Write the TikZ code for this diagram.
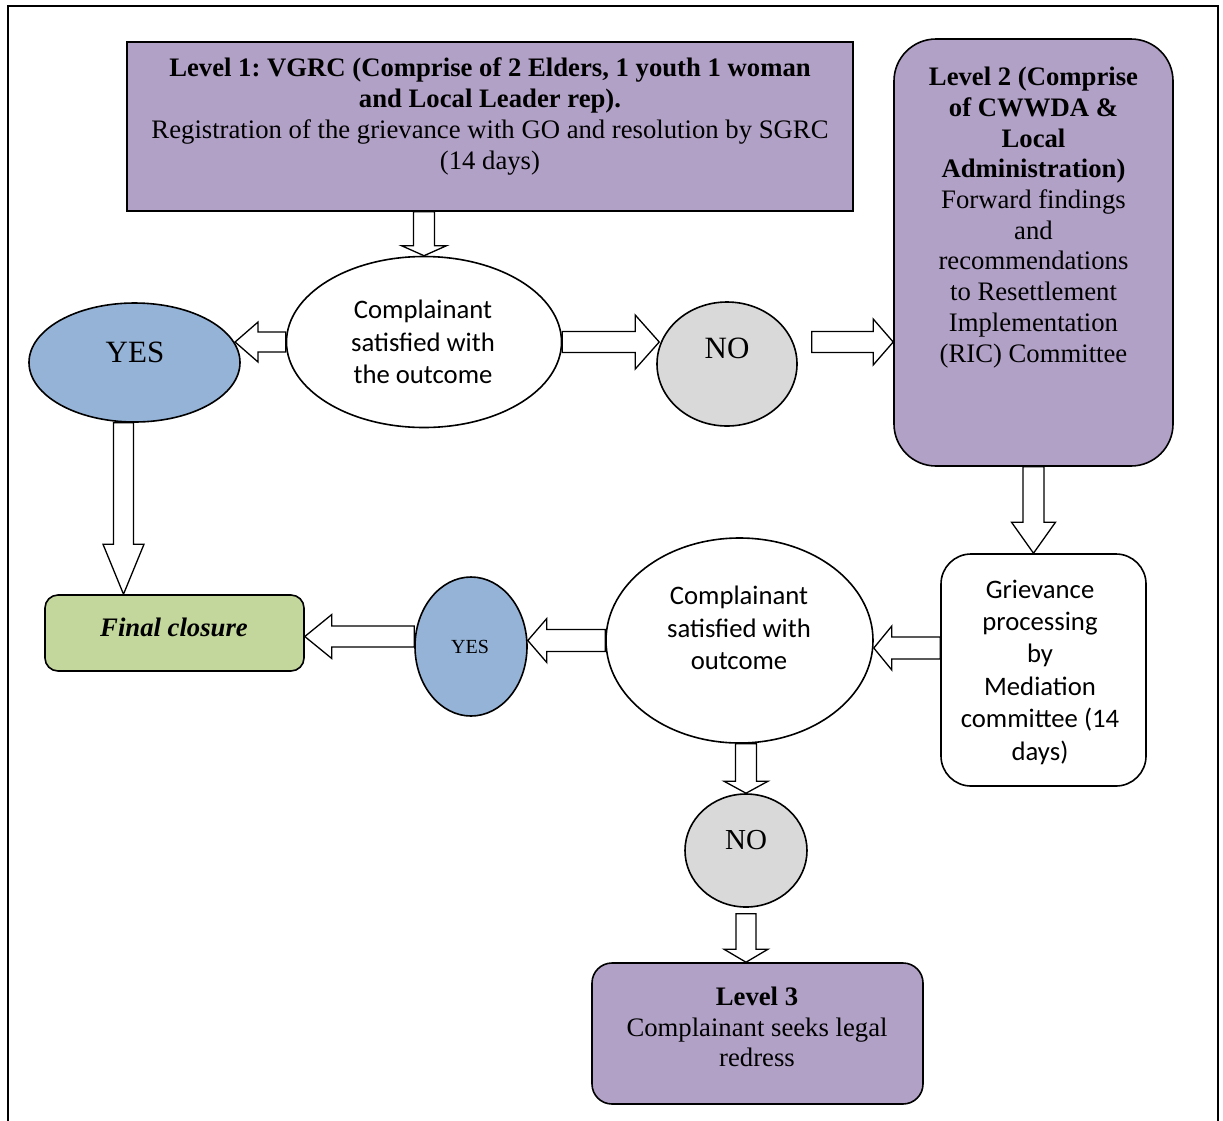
\documentclass[tikz,border=0pt]{standalone}
\usepackage{fontspec}
\setmainfont{Liberation Serif}
\newfontfamily\calib{Carlito}
\usetikzlibrary{shapes.geometric,calc}
\frenchspacing
\definecolor{lvpurple}{HTML}{B2A1C7}
\definecolor{yesblue}{HTML}{95B3D7}
\definecolor{nogray}{HTML}{D9D9D9}
\definecolor{fingreen}{HTML}{C3D69B}
\tikzset{
  shp/.style={draw=black, line width=1.6pt, inner sep=0pt},
  boxshape/.style={shp, rectangle},
  ellshape/.style={shp, ellipse},
  serif/.style={align=center, inner sep=0pt, font=\fontsize{26.7}{30.7}\selectfont},
  sans/.style={align=center, inner sep=0pt, font=\calib\fontsize{26.7}{32.4}\selectfont},
  barrow/.style={draw=black, fill=white, line width=1.3pt, line join=miter}
}
\newcommand\blockarr[5]{%
  \coordinate (bas) at (#1);
  \coordinate (bae) at (#2);
  \coordinate (bah) at ($(bae)!#5!(bas)$);
  \draw[barrow] ($(bas)!#3!90:(bae)$) -- ($(bah)!#3!-90:(bas)$) -- ($(bah)!#4!-90:(bas)$) -- (bae) -- ($(bah)!#4!90:(bas)$) -- ($(bah)!#3!90:(bas)$) -- ($(bas)!#3!-90:(bae)$) -- cycle;}
\begin{document}
\begin{tikzpicture}[x=1pt,y=-1pt]
\useasboundingbox (0,0) rectangle (1223,1120);
\draw[line width=1.5pt] (8,1121) -- (8,6) -- (1218,6) -- (1218,1121);

% shapes
\node[boxshape, fill=lvpurple, minimum width=726pt, minimum height=169pt] (l1) at (490,126.5) {};
\node[boxshape, fill=lvpurple, rounded corners=42pt, minimum width=279pt, minimum height=427pt] (l2) at (1033.5,252.5) {};
\node[ellshape, fill=white, minimum width=275pt, minimum height=171pt] (e1) at (424,342) {};
\node[ellshape, fill=yesblue, minimum width=211pt, minimum height=119pt] (yes1) at (134.5,362.5) {};
\node[ellshape, fill=nogray, minimum width=140pt, minimum height=124pt] (no1) at (727,364) {};
\node[boxshape, fill=fingreen, rounded corners=13pt, minimum width=259pt, minimum height=76pt] (fin) at (174.5,633) {};
\node[ellshape, fill=yesblue, minimum width=112pt, minimum height=139pt] (yes2) at (471,646.5) {};
\node[ellshape, fill=white, minimum width=267pt, minimum height=205pt] (e2) at (739.5,640.5) {};
\node[boxshape, fill=white, rounded corners=30pt, minimum width=205pt, minimum height=232pt] (grv) at (1043.5,670) {};
\node[ellshape, fill=nogray, minimum width=122pt, minimum height=113pt] (no2) at (746,850.5) {};
\node[boxshape, fill=lvpurple, rounded corners=20pt, minimum width=331pt, minimum height=141pt] (l3) at (757.5,1033.5) {};

% texts
\node[serif] (l1t) at ($(l1)+(0,-10)$) {\textbf{Level 1: VGRC (Comprise of 2 Elders, 1 youth 1 woman}\\\textbf{and Local Leader rep).}\\Registration of the grievance with GO and resolution by SGRC\\(14 days)};
\node[serif] (l2t) at ($(l2)+(0,-35)$) {\textbf{Level 2 (Comprise}\\\textbf{of CWWDA \&}\\\textbf{Local}\\\textbf{Administration)}\\Forward findings\\and\\recommendations\\to Resettlement\\Implementation\\(RIC) Committee};
\node[sans] (e1t) at (423,342) {Complainant\\satisfied with\\the outcome};
\node[serif, font=\fontsize{31}{35}\selectfont] (yes1t) at (135,352) {YES};
\node[serif, font=\fontsize{31}{35}\selectfont] (no1t) at (727,348) {NO};
\node[serif] (fint) at (174,627) {\textbf{\textit{Final closure}}};
\node[serif, font=\fontsize{20}{24}\selectfont] (yes2t) at (470,647) {YES};
\node[sans] (e2t) at (739,628) {Complainant\\satisfied with\\outcome};
\node[sans] (grvt) at (1040,672) {Grievance\\processing\\by\\Mediation\\committee (14\\days)};
\node[serif, font=\fontsize{29}{33}\selectfont] (no2t) at (746,840) {NO};
\node[serif] (l3t) at (757,1027) {\textbf{Level 3}\\Complainant seeks legal\\redress};

% connector helper coordinates
\coordinate (n1out) at ($(no1.east |- e1.east)+(14,0)$);
\coordinate (g1) at ($(grv.west)+(0,-22)$);
\coordinate (y2out) at ($(yes2.west)+(0,-10)$);
\coordinate (y1out) at ($(yes1.south)+(-11,0)$);
\coordinate (n2out) at ($(no2.south)+(0,6)$);

% block arrows
\blockarr{l1.south -| e1.north}{e1.north}{10.5pt}{22.5pt}{10pt}
\blockarr{e1.west}{e1.west -| yes1.11}{10pt}{20pt}{23pt}
\blockarr{e1.east}{e1.east -| no1.165}{10.5pt}{27pt}{24pt}
\blockarr{n1out}{n1out -| l2.west}{10.5pt}{23pt}{20pt}
\blockarr{l2.south}{l2.south |- grv.north}{10.5pt}{22pt}{31pt}
\blockarr{g1}{g1 -| e2.east}{11pt}{22pt}{18pt}
\blockarr{e2.west}{e2.west -| yes2.east}{11pt}{22pt}{19pt}
\blockarr{y2out}{y2out -| fin.east}{10.5pt}{22pt}{27pt}
\blockarr{y1out}{y1out |- fin.north}{10pt}{20.5pt}{50pt}
\blockarr{no2.north |- e2.south}{no2.north}{10.5pt}{22pt}{12pt}
\blockarr{n2out}{n2out |- l3.north}{10pt}{22pt}{13pt}
\end{tikzpicture}
\end{document}
